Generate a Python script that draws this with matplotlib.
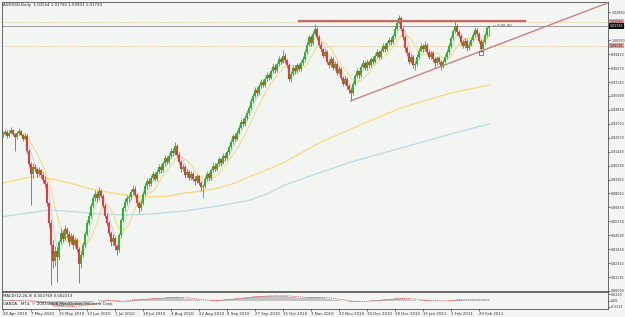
import numpy as np
import pandas as pd
import matplotlib
matplotlib.use('Agg')
import matplotlib.pyplot as plt
import matplotlib.transforms as mtransforms

# --- data (AUDUSD daily, bar index 0 = 20 Apr 2010) ---
header_text = 'AUDUSD,Daily  1.01554 1.01792 1.00901 1.01720'
first_open = 0.9275

closes = [
    0.9290, 0.9305, 0.9270, 0.9300, 0.9320, 0.9285, 0.9260, 0.9295, 0.9310, 0.9280,
    0.9250, 0.9275, 0.9150, 0.9040, 0.8960, 0.9020, 0.9000, 0.8960, 0.8990, 0.8950,
    0.8910, 0.8880, 0.8720, 0.8560, 0.8380, 0.8250, 0.8330, 0.8280, 0.8400, 0.8480,
    0.8430, 0.8510, 0.8470, 0.8400, 0.8450, 0.8380, 0.8420, 0.8350, 0.8220, 0.8300,
    0.8380, 0.8470, 0.8560, 0.8620, 0.8700, 0.8760, 0.8800, 0.8760, 0.8820, 0.8780,
    0.8700, 0.8620, 0.8560, 0.8480, 0.8400, 0.8440, 0.8370, 0.8340, 0.8460, 0.8580,
    0.8680, 0.8730, 0.8760, 0.8770, 0.8810, 0.8840, 0.8790, 0.8720, 0.8680, 0.8720,
    0.8800, 0.8860, 0.8900, 0.8880, 0.8930, 0.8960, 0.8920, 0.8980, 0.9020, 0.8990,
    0.9050, 0.9090, 0.9060, 0.9110, 0.9150, 0.9130, 0.9190, 0.9120, 0.9060, 0.9000,
    0.9020, 0.8950, 0.8980, 0.8930, 0.8960, 0.8920, 0.8900, 0.8940, 0.8890, 0.8850,
    0.8860, 0.8920, 0.8960, 0.8930, 0.8990, 0.9030, 0.9000, 0.9040, 0.9080, 0.9050,
    0.9110, 0.9090, 0.9140, 0.9180, 0.9220, 0.9270, 0.9250, 0.9300, 0.9340, 0.9390,
    0.9370, 0.9420, 0.9460, 0.9500, 0.9560, 0.9600, 0.9650, 0.9620, 0.9680, 0.9710,
    0.9690, 0.9740, 0.9770, 0.9750, 0.9800, 0.9840, 0.9810, 0.9860, 0.9900, 0.9880,
    0.9930, 0.9890, 0.9850, 0.9740, 0.9780, 0.9830, 0.9800, 0.9850, 0.9820, 0.9870,
    0.9900, 0.9960, 1.0020, 1.0080, 1.0030, 1.0110, 1.0150, 1.0080, 1.0020, 0.9980,
    0.9930, 0.9960, 0.9880, 0.9850, 0.9900, 0.9830, 0.9860, 0.9790, 0.9820, 0.9750,
    0.9700, 0.9740, 0.9680, 0.9650, 0.9620, 0.9700, 0.9760, 0.9800, 0.9770, 0.9840,
    0.9870, 0.9830, 0.9880, 0.9850, 0.9900, 0.9880, 0.9930, 0.9960, 0.9920, 0.9970,
    1.0010, 0.9980, 1.0030, 1.0060, 1.0040, 1.0090, 1.0150, 1.0200, 1.0240, 1.0150,
    1.0080, 0.9990, 0.9950, 0.9880, 0.9920, 0.9850, 0.9860, 0.9920, 0.9970, 1.0010,
    0.9980, 1.0020, 0.9960, 0.9920, 0.9950, 0.9900, 0.9870, 0.9910, 0.9880, 0.9840,
    0.9880, 0.9920, 0.9960, 1.0010, 1.0070, 1.0130, 1.0170, 1.0120, 1.0090, 1.0040,
    1.0010, 1.0050, 0.9990, 1.0020, 1.0060, 1.0100, 1.0140, 1.0110, 1.0050, 0.9980,
    1.0040, 1.0100, 1.0155, 1.0172,
]
highs = [
    0.9315, 0.9330, 0.9318, 0.9322, 0.9345, 0.9332, 0.9298, 0.9310, 0.9335, 0.9322,
    0.9290, 0.9300, 0.9285, 0.9165, 0.9060, 0.9050, 0.9045, 0.9020, 0.9015, 0.9005,
    0.8975, 0.8940, 0.8895, 0.8735, 0.8580, 0.8420, 0.8370, 0.8360, 0.8420, 0.8515,
    0.8505, 0.8540, 0.8530, 0.8490, 0.8480, 0.8470, 0.8445, 0.8435, 0.8365, 0.8330,
    0.8400, 0.8490, 0.8580, 0.8650, 0.8720, 0.8790, 0.8830, 0.8820, 0.8850, 0.8840,
    0.8795, 0.8715, 0.8640, 0.8575, 0.8495, 0.8470, 0.8455, 0.8390, 0.8480, 0.8600,
    0.8700, 0.8760, 0.8790, 0.8800, 0.8840, 0.8870, 0.8860, 0.8805, 0.8740, 0.8745,
    0.8820, 0.8885, 0.8925, 0.8930, 0.8950, 0.8985, 0.8980, 0.9000, 0.9045, 0.9040,
    0.9070, 0.9115, 0.9110, 0.9130, 0.9175, 0.9170, 0.9225, 0.9205, 0.9140, 0.9075,
    0.9045, 0.9035, 0.9005, 0.8995, 0.8985, 0.8975, 0.8940, 0.8960, 0.8955, 0.8905,
    0.8880, 0.8940, 0.8985, 0.8975, 0.9010, 0.9055, 0.9050, 0.9060, 0.9100, 0.9095,
    0.9130, 0.9135, 0.9160, 0.9200, 0.9245, 0.9290, 0.9295, 0.9320, 0.9365, 0.9410,
    0.9415, 0.9440, 0.9485, 0.9525, 0.9580, 0.9625, 0.9675, 0.9670, 0.9700, 0.9735,
    0.9735, 0.9760, 0.9795, 0.9790, 0.9820, 0.9865, 0.9860, 0.9880, 0.9925, 0.9920,
    0.9975, 0.9950, 0.9905, 0.9865, 0.9805, 0.9850, 0.9850, 0.9870, 0.9865, 0.9890,
    0.9925, 0.9980, 1.0045, 1.0100, 1.0095, 1.0130, 1.0185, 1.0165, 1.0095, 1.0040,
    0.9995, 0.9985, 0.9975, 0.9900, 0.9925, 0.9915, 0.9885, 0.9875, 0.9845, 0.9835,
    0.9765, 0.9760, 0.9755, 0.9700, 0.9670, 0.9720, 0.9780, 0.9825, 0.9815, 0.9860,
    0.9895, 0.9885, 0.9900, 0.9895, 0.9920, 0.9925, 0.9950, 0.9985, 0.9975, 0.9990,
    1.0035, 1.0030, 1.0050, 1.0085, 1.0080, 1.0110, 1.0170, 1.0225, 1.0262, 1.0250,
    1.0165, 1.0095, 1.0010, 0.9965, 0.9945, 0.9935, 0.9885, 0.9940, 0.9990, 1.0030,
    1.0025, 1.0045, 1.0035, 0.9975, 0.9970, 0.9965, 0.9915, 0.9930, 0.9925, 0.9895,
    0.9900, 0.9940, 0.9980, 1.0030, 1.0090, 1.0150, 1.0215, 1.0185, 1.0140, 1.0105,
    1.0060, 1.0070, 1.0065, 1.0045, 1.0085, 1.0120, 1.0160, 1.0155, 1.0125, 1.0065,
    1.0060, 1.0120, 1.0175, 1.0179,
]
lows = [
    0.9262, 0.9278, 0.9255, 0.9260, 0.9290, 0.9270, 0.9145, 0.9250, 0.9282, 0.9268,
    0.9232, 0.9240, 0.9130, 0.9020, 0.8710, 0.8930, 0.8975, 0.8935, 0.8945, 0.8925,
    0.8890, 0.8850, 0.8700, 0.8530, 0.8052, 0.8190, 0.8210, 0.8080, 0.8260, 0.8385,
    0.8400, 0.8420, 0.8440, 0.8375, 0.8385, 0.8350, 0.8360, 0.8320, 0.8070, 0.8190,
    0.8280, 0.8360, 0.8450, 0.8540, 0.8600, 0.8680, 0.8740, 0.8735, 0.8745, 0.8760,
    0.8680, 0.8600, 0.8535, 0.8455, 0.8375, 0.8380, 0.8340, 0.8300, 0.8325, 0.8445,
    0.8565, 0.8660, 0.8705, 0.8735, 0.8750, 0.8790, 0.8770, 0.8700, 0.8640, 0.8660,
    0.8705, 0.8785, 0.8840, 0.8860, 0.8865, 0.8910, 0.8900, 0.8905, 0.8965, 0.8970,
    0.8975, 0.9030, 0.9040, 0.9045, 0.9095, 0.9110, 0.9120, 0.9100, 0.9040, 0.8980,
    0.8985, 0.8930, 0.8935, 0.8910, 0.8915, 0.8900, 0.8870, 0.8885, 0.8870, 0.8820,
    0.8760, 0.8845, 0.8905, 0.8910, 0.8915, 0.8975, 0.8985, 0.8985, 0.9025, 0.9030,
    0.9040, 0.9070, 0.9075, 0.9125, 0.9165, 0.9205, 0.9230, 0.9235, 0.9285, 0.9325,
    0.9350, 0.9355, 0.9405, 0.9445, 0.9485, 0.9545, 0.9585, 0.9600, 0.9605, 0.9665,
    0.9670, 0.9675, 0.9725, 0.9730, 0.9735, 0.9785, 0.9790, 0.9795, 0.9845, 0.9860,
    0.9865, 0.9870, 0.9830, 0.9720, 0.9715, 0.9765, 0.9780, 0.9785, 0.9800, 0.9805,
    0.9855, 0.9885, 0.9945, 1.0005, 1.0010, 1.0015, 1.0095, 1.0060, 1.0000, 0.9960,
    0.9910, 0.9915, 0.9860, 0.9825, 0.9835, 0.9810, 0.9815, 0.9770, 0.9775, 0.9730,
    0.9680, 0.9685, 0.9660, 0.9625, 0.9560, 0.9605, 0.9685, 0.9745, 0.9750, 0.9755,
    0.9825, 0.9810, 0.9815, 0.9830, 0.9835, 0.9860, 0.9865, 0.9915, 0.9900, 0.9905,
    0.9955, 0.9960, 0.9965, 1.0015, 1.0020, 1.0025, 1.0075, 1.0135, 1.0185, 1.0130,
    1.0060, 0.9970, 0.9925, 0.9860, 0.9865, 0.9830, 0.9812, 0.9845, 0.9905, 0.9955,
    0.9960, 0.9965, 0.9940, 0.9900, 0.9905, 0.9880, 0.9830, 0.9855, 0.9860, 0.9815,
    0.9825, 0.9865, 0.9905, 0.9945, 0.9995, 1.0055, 1.0115, 1.0100, 1.0070, 1.0020,
    0.9990, 0.9995, 0.9970, 0.9975, 1.0005, 1.0045, 1.0085, 1.0090, 1.0030, 0.9960,
    0.9965, 1.0025, 1.0085, 1.0090,
]

# slow moving averages (MA100 yellow, MA200 light blue), read at sample bars
ma100_bars = [0, 7, 14, 22, 29, 37, 44, 52, 59, 67, 74, 82, 91, 99, 108, 116, 124, 133,
              141, 149, 158, 166, 174, 187, 199, 212, 224, 243]
ma100_vals = [0.8887, 0.8911, 0.8936, 0.8928, 0.8903, 0.8871, 0.8838, 0.8813, 0.8793,
              0.8778, 0.8772, 0.8778, 0.8805, 0.8821, 0.8846, 0.8887, 0.8944, 0.9001,
              0.9059, 0.9132, 0.9214, 0.9272, 0.9329, 0.9419, 0.9501, 0.9566, 0.9623,
              0.9689]
ma200_bars = [0, 12, 24, 37, 49, 62, 74, 91, 108, 124, 133, 141, 158, 174, 199, 224, 243]
ma200_vals = [0.8611, 0.8641, 0.8666, 0.8650, 0.8633, 0.8625, 0.8633, 0.8658, 0.8699,
              0.8748, 0.8805, 0.8871, 0.8969, 0.9059, 0.9173, 0.9288, 0.9370]

# drawn objects
trend_bars = [174, 303]
trend_vals = [0.9560, 1.0365]
resist_bars = [148, 261]
resist_val = 1.0215
hline_vals = [1.0204, 1.0011]
bid_price = 1.0172

date_bars = list(range(0, 244, 14))
date_labels = ['20 Apr 2010', '7 May 2010', '25 May 2010', '13 Jun 2010', '1 Jul 2010',
               '18 Jul 2010', '4 Aug 2010', '22 Aug 2010', '8 Sep 2010', '27 Sep 2010',
               '15 Oct 2010', '3 Nov 2010', '22 Nov 2010', '10 Dec 2010', '28 Dec 2010',
               '15 Jan 2011', '1 Feb 2011', '20 Feb 2011']

price_ticks = [0.8003 + 0.0114 * k for k in range(21)]

# --- figure ---
W, H = 625, 317
bg = '#f3f5f3'
fs = 2.8
fs_axis = 2.3
plt.rcParams['font.family'] = 'DejaVu Sans'

fig = plt.figure(figsize=(W / 100, H / 100), dpi=100)
fig.patch.set_facecolor(bg)


def px_box(x0, y0, x1, y1):
    return [x0 / W, 1 - y1 / H, (x1 - x0) / W, (y1 - y0) / H]


ax = fig.add_axes(px_box(2, 2, 608, 291))
axm = fig.add_axes(px_box(2, 292, 608, 309), sharex=ax)
for a in (ax, axm):
    a.set_facecolor(bg)
    for sp in a.spines.values():
        sp.set_color('#505050')
        sp.set_linewidth(0.6)

idx = np.arange(len(closes))
c = np.array(closes)
o = np.array([first_open] + closes[:-1])
hi = np.array(highs)
lo = np.array(lows)
up = c >= o

bull, bear = '#26b826', '#f53535'
cols = np.where(up, bull, bear)
ax.vlines(idx, lo, hi, colors=cols, linewidth=0.6, zorder=3)
body_h = np.maximum(np.abs(c - o), 0.0004)
ax.bar(idx, body_h, bottom=np.minimum(o, c), width=0.85, color=cols, linewidth=0, zorder=4)

# moving averages
s = pd.Series(closes)
ax.plot(idx, s.rolling(5, min_periods=1).mean(), color='#c8c8c8', lw=0.5, zorder=2)
ax.plot(idx, s.rolling(10, min_periods=1).mean(), color='#f3d36a', lw=0.6, zorder=2)
ax.plot(ma100_bars, ma100_vals, color='#f7d979', lw=0.9, zorder=2)
ax.plot(ma200_bars, ma200_vals, color='#b8dbe3', lw=0.9, zorder=2)

# horizontal lines, bid line, resistance and trend lines
for v in hline_vals:
    ax.axhline(v, color='#d8b050', lw=0.6, ls=(0, (1, 2)), zorder=1)
ax.axhline(bid_price, color='#909090', lw=0.6, zorder=1)
ax.plot(resist_bars, [resist_val, resist_val], color='#c46a6a', lw=1.6, zorder=5)
ax.plot(trend_bars, trend_vals, color='#c98282', lw=1.0, zorder=5)
ax.plot([239], [lows[239] - 0.0012], marker='s', ms=2.2, mfc='none', mec='#555555', mew=0.5, zorder=6)
ax.text(245, bid_price, '<-7:00:00', fontsize=fs, color='#404040', va='center', ha='left')

ax.set_xlim(-0.5, 302.5)
ax.set_ylim(0.8003, 1.0368)
ax.yaxis.tick_right()
ax.set_yticks(price_ticks)
ax.set_yticklabels(['%.5f' % t for t in price_ticks])
ax.tick_params(axis='y', labelsize=fs_axis, length=1.5, width=0.5, pad=0.8, colors='#303030')
ax.tick_params(axis='x', bottom=False, labelbottom=False)

# price labels on the right axis
trans = mtransforms.blended_transform_factory(ax.transAxes, ax.transData)
for v, fc, tc in [(hline_vals[0], '#e6a3a3', '#303030'), (bid_price, '#101010', 'white'),
                  (hline_vals[1], '#e19898', '#303030')]:
    ax.text(1.003, v, '%.5f' % v, transform=trans, fontsize=fs_axis, color=tc, va='center',
            ha='left', clip_on=False, zorder=10,
            bbox=dict(boxstyle='square,pad=0.2', fc=fc, ec='none'))

# MACD pane
macd = s.ewm(span=12, adjust=False).mean() - s.ewm(span=26, adjust=False).mean()
signal = macd.rolling(9, min_periods=1).mean()
axm.bar(idx, macd, width=0.6, color='#c4c4c4', linewidth=0)
axm.plot(idx, signal, color='#e03030', lw=0.6, ls=(0, (1, 1.2)))
axm.set_ylim(-0.03, 0.03)
axm.yaxis.tick_right()
axm.set_yticks([0.0229, 0.0, -0.0215])
axm.set_yticklabels(['0.0229', '0.00', '-0.0215'])
axm.tick_params(axis='y', labelsize=fs_axis, length=1.5, width=0.5, pad=0.8, colors='#303030')
axm.set_xticks(date_bars)
axm.set_xticklabels(date_labels, ha='left')
axm.tick_params(axis='x', labelsize=fs, length=1.5, width=0.5, pad=1, colors='#303030')

fig.text(3 / W, 1 - 5 / H, header_text, fontsize=fs, color='#202020', va='center', ha='left')
fig.text(3 / W, 1 - 296 / H, 'MACD(12,26,9) 0.002769 0.002213', fontsize=fs,
         color='#202020', va='center', ha='left')
fig.text(3 / W, 1 - 304.5 / H, 'OANDA - MT4, \u00a9 2001-2008 MetaQuotes Software Corp.',
         fontsize=fs, color='#202020', va='center', ha='left')

fig.savefig('out.png', dpi=100, facecolor=bg)
